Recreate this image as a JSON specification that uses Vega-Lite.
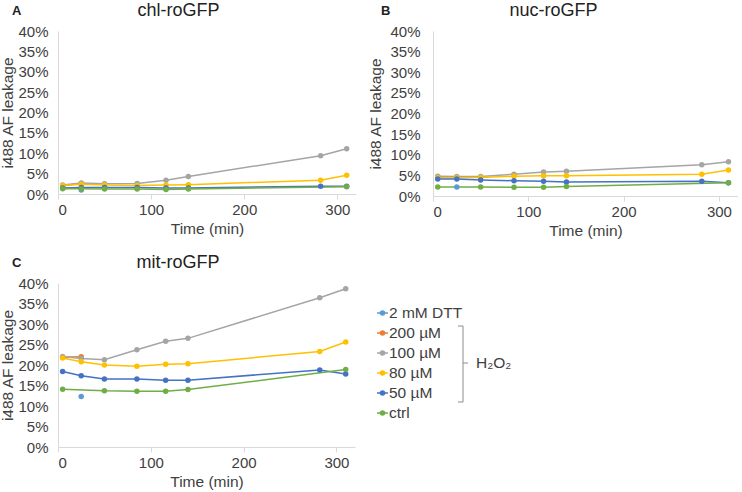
{
  "$schema": "https://vega.github.io/schema/vega-lite/v6.json",
  "padding": {"left": 0, "top": 2, "right": 0, "bottom": 0},
  "background": "white",
  "datasets": {
    "d": [
      {"panel": "A", "series": "2 mM DTT", "time": 25, "value": 0.010},
      {"panel": "A", "series": "200 µM", "time": 5, "value": 0.020},
      {"panel": "A", "series": "200 µM", "time": 25, "value": 0.026},
      {"panel": "A", "series": "100 µM", "time": 5, "value": 0.022},
      {"panel": "A", "series": "100 µM", "time": 25, "value": 0.027},
      {"panel": "A", "series": "100 µM", "time": 50, "value": 0.025},
      {"panel": "A", "series": "100 µM", "time": 85, "value": 0.026},
      {"panel": "A", "series": "100 µM", "time": 116, "value": 0.034},
      {"panel": "A", "series": "100 µM", "time": 140, "value": 0.043},
      {"panel": "A", "series": "100 µM", "time": 282, "value": 0.094},
      {"panel": "A", "series": "100 µM", "time": 310, "value": 0.111},
      {"panel": "A", "series": "80 µM", "time": 5, "value": 0.021},
      {"panel": "A", "series": "80 µM", "time": 25, "value": 0.024},
      {"panel": "A", "series": "80 µM", "time": 50, "value": 0.022},
      {"panel": "A", "series": "80 µM", "time": 85, "value": 0.021},
      {"panel": "A", "series": "80 µM", "time": 116, "value": 0.022},
      {"panel": "A", "series": "80 µM", "time": 140, "value": 0.023},
      {"panel": "A", "series": "80 µM", "time": 282, "value": 0.034},
      {"panel": "A", "series": "80 µM", "time": 310, "value": 0.046},
      {"panel": "A", "series": "50 µM", "time": 5, "value": 0.015},
      {"panel": "A", "series": "50 µM", "time": 25, "value": 0.016},
      {"panel": "A", "series": "50 µM", "time": 50, "value": 0.016},
      {"panel": "A", "series": "50 µM", "time": 85, "value": 0.016},
      {"panel": "A", "series": "50 µM", "time": 116, "value": 0.015},
      {"panel": "A", "series": "50 µM", "time": 140, "value": 0.015},
      {"panel": "A", "series": "50 µM", "time": 282, "value": 0.019},
      {"panel": "A", "series": "50 µM", "time": 310, "value": 0.019},
      {"panel": "A", "series": "ctrl", "time": 5, "value": 0.013},
      {"panel": "A", "series": "ctrl", "time": 25, "value": 0.013},
      {"panel": "A", "series": "ctrl", "time": 50, "value": 0.012},
      {"panel": "A", "series": "ctrl", "time": 85, "value": 0.012},
      {"panel": "A", "series": "ctrl", "time": 116, "value": 0.011},
      {"panel": "A", "series": "ctrl", "time": 140, "value": 0.012},
      {"panel": "A", "series": "ctrl", "time": 310, "value": 0.018},

      {"panel": "B", "series": "2 mM DTT", "time": 25, "value": 0.022},
      {"panel": "B", "series": "200 µM", "time": 5, "value": 0.046},
      {"panel": "B", "series": "200 µM", "time": 25, "value": 0.045},
      {"panel": "B", "series": "100 µM", "time": 5, "value": 0.048},
      {"panel": "B", "series": "100 µM", "time": 25, "value": 0.047},
      {"panel": "B", "series": "100 µM", "time": 50, "value": 0.047},
      {"panel": "B", "series": "100 µM", "time": 85, "value": 0.053},
      {"panel": "B", "series": "100 µM", "time": 116, "value": 0.058},
      {"panel": "B", "series": "100 µM", "time": 140, "value": 0.060},
      {"panel": "B", "series": "100 µM", "time": 282, "value": 0.076},
      {"panel": "B", "series": "100 µM", "time": 310, "value": 0.083},
      {"panel": "B", "series": "80 µM", "time": 5, "value": 0.044},
      {"panel": "B", "series": "80 µM", "time": 25, "value": 0.044},
      {"panel": "B", "series": "80 µM", "time": 50, "value": 0.045},
      {"panel": "B", "series": "80 µM", "time": 85, "value": 0.048},
      {"panel": "B", "series": "80 µM", "time": 116, "value": 0.049},
      {"panel": "B", "series": "80 µM", "time": 140, "value": 0.049},
      {"panel": "B", "series": "80 µM", "time": 282, "value": 0.053},
      {"panel": "B", "series": "80 µM", "time": 310, "value": 0.063},
      {"panel": "B", "series": "50 µM", "time": 5, "value": 0.041},
      {"panel": "B", "series": "50 µM", "time": 25, "value": 0.041},
      {"panel": "B", "series": "50 µM", "time": 50, "value": 0.039},
      {"panel": "B", "series": "50 µM", "time": 85, "value": 0.037},
      {"panel": "B", "series": "50 µM", "time": 116, "value": 0.036},
      {"panel": "B", "series": "50 µM", "time": 140, "value": 0.034},
      {"panel": "B", "series": "50 µM", "time": 282, "value": 0.036},
      {"panel": "B", "series": "50 µM", "time": 310, "value": 0.032},
      {"panel": "B", "series": "ctrl", "time": 5, "value": 0.022},
      {"panel": "B", "series": "ctrl", "time": 50, "value": 0.022},
      {"panel": "B", "series": "ctrl", "time": 85, "value": 0.021},
      {"panel": "B", "series": "ctrl", "time": 116, "value": 0.021},
      {"panel": "B", "series": "ctrl", "time": 140, "value": 0.023},
      {"panel": "B", "series": "ctrl", "time": 310, "value": 0.032},

      {"panel": "C", "series": "2 mM DTT", "time": 25, "value": 0.123},
      {"panel": "C", "series": "200 µM", "time": 5, "value": 0.219},
      {"panel": "C", "series": "200 µM", "time": 25, "value": 0.220},
      {"panel": "C", "series": "100 µM", "time": 5, "value": 0.221},
      {"panel": "C", "series": "100 µM", "time": 25, "value": 0.216},
      {"panel": "C", "series": "100 µM", "time": 50, "value": 0.213},
      {"panel": "C", "series": "100 µM", "time": 85, "value": 0.237},
      {"panel": "C", "series": "100 µM", "time": 116, "value": 0.258},
      {"panel": "C", "series": "100 µM", "time": 140, "value": 0.265},
      {"panel": "C", "series": "100 µM", "time": 282, "value": 0.364},
      {"panel": "C", "series": "100 µM", "time": 310, "value": 0.386},
      {"panel": "C", "series": "80 µM", "time": 5, "value": 0.217},
      {"panel": "C", "series": "80 µM", "time": 25, "value": 0.208},
      {"panel": "C", "series": "80 µM", "time": 50, "value": 0.200},
      {"panel": "C", "series": "80 µM", "time": 85, "value": 0.197},
      {"panel": "C", "series": "80 µM", "time": 116, "value": 0.202},
      {"panel": "C", "series": "80 µM", "time": 140, "value": 0.203},
      {"panel": "C", "series": "80 µM", "time": 282, "value": 0.233},
      {"panel": "C", "series": "80 µM", "time": 310, "value": 0.256},
      {"panel": "C", "series": "50 µM", "time": 5, "value": 0.184},
      {"panel": "C", "series": "50 µM", "time": 25, "value": 0.174},
      {"panel": "C", "series": "50 µM", "time": 50, "value": 0.166},
      {"panel": "C", "series": "50 µM", "time": 85, "value": 0.166},
      {"panel": "C", "series": "50 µM", "time": 116, "value": 0.163},
      {"panel": "C", "series": "50 µM", "time": 140, "value": 0.163},
      {"panel": "C", "series": "50 µM", "time": 282, "value": 0.188},
      {"panel": "C", "series": "50 µM", "time": 310, "value": 0.178},
      {"panel": "C", "series": "ctrl", "time": 5, "value": 0.141},
      {"panel": "C", "series": "ctrl", "time": 50, "value": 0.137},
      {"panel": "C", "series": "ctrl", "time": 85, "value": 0.136},
      {"panel": "C", "series": "ctrl", "time": 116, "value": 0.136},
      {"panel": "C", "series": "ctrl", "time": 140, "value": 0.140},
      {"panel": "C", "series": "ctrl", "time": 310, "value": 0.189}
    ],
    "series": [
      {"series": "2 mM DTT"},
      {"series": "200 µM"},
      {"series": "100 µM"},
      {"series": "80 µM"},
      {"series": "50 µM"},
      {"series": "ctrl"}
    ]
  },
  "config": {
    "font": "Liberation Sans",
    "view": {"stroke": null},
    "axis": {
      "grid": false,
      "domainColor": "#d9d9d9",
      "tickColor": "#d9d9d9",
      "labelFontSize": 15,
      "labelColor": "#404040",
      "titleFontSize": 15.5,
      "titleFontWeight": "normal",
      "titleColor": "#404040"
    },
    "title": {"fontSize": 18, "fontWeight": "normal", "color": "#222222"}
  },
  "spacing": 15,
  "vconcat": [
    {
      "spacing": 12,
      "hconcat": [
        {
          "title": {"text": "A", "anchor": "start", "frame": "bounds", "fontSize": 13, "fontWeight": "bold", "offset": -16, "dx": 11},
          "vconcat": [
            {
              "width": 298,
              "height": 163,
              "title": {"text": "chl-roGFP", "frame": "bounds", "anchor": "middle", "offset": 4},
              "data": {"name": "d"},
              "transform": [{"filter": "datum.panel === 'A'"}],
              "mark": {"type": "line", "strokeWidth": 1.5, "point": {"filled": true, "size": 30}},
              "encoding": {
                "x": {"field": "time", "type": "quantitative", "scale": {"domain": [0, 320], "nice": false},
                      "axis": {"title": "Time (min)", "values": [0, 100, 200, 300], "tickSize": 5, "labelPadding": 3, "titlePadding": 4}},
                "y": {"field": "value", "type": "quantitative", "scale": {"domain": [0, 0.4], "nice": false},
                      "axis": {"title": "i488 AF leakage", "values": [0, 0.05, 0.1, 0.15, 0.2, 0.25, 0.3, 0.35, 0.4], "format": ".0%", "ticks": false, "labelPadding": 10, "titlePadding": 2}},
                "color": {"field": "series", "type": "nominal", "legend": null,
                          "scale": {"domain": ["2 mM DTT", "200 µM", "100 µM", "80 µM", "50 µM", "ctrl"],
                                    "range": ["#5B9BD5", "#ED7D31", "#A5A5A5", "#FFC000", "#4472C4", "#70AD47"]}}
              }
            }
          ]
        },
        {
          "title": {"text": "B", "anchor": "start", "frame": "bounds", "fontSize": 13, "fontWeight": "bold", "offset": -16, "dx": 12},
          "vconcat": [
            {
              "width": 305,
              "height": 165,
              "title": {"text": "nuc-roGFP", "frame": "bounds", "anchor": "middle", "offset": 4},
              "data": {"name": "d"},
              "transform": [{"filter": "datum.panel === 'B'"}],
              "mark": {"type": "line", "strokeWidth": 1.5, "point": {"filled": true, "size": 30}},
              "encoding": {
                "x": {"field": "time", "type": "quantitative", "scale": {"domain": [0, 320], "nice": false},
                      "axis": {"title": "Time (min)", "values": [0, 100, 200, 300], "tickSize": 5, "labelPadding": 3, "titlePadding": 4}},
                "y": {"field": "value", "type": "quantitative", "scale": {"domain": [0, 0.4], "nice": false},
                      "axis": {"title": "i488 AF leakage", "values": [0, 0.05, 0.1, 0.15, 0.2, 0.25, 0.3, 0.35, 0.4], "format": ".0%", "ticks": false, "labelPadding": 13, "titlePadding": 6}},
                "color": {"field": "series", "type": "nominal", "legend": null,
                          "scale": {"domain": ["2 mM DTT", "200 µM", "100 µM", "80 µM", "50 µM", "ctrl"],
                                    "range": ["#5B9BD5", "#ED7D31", "#A5A5A5", "#FFC000", "#4472C4", "#70AD47"]}}
              }
            }
          ]
        }
      ]
    },
    {
      "spacing": 20,
      "hconcat": [
        {
          "title": {"text": "C", "anchor": "start", "frame": "bounds", "fontSize": 13, "fontWeight": "bold", "offset": -16, "dx": 11},
          "vconcat": [
            {
              "width": 297,
              "height": 164,
              "title": {"text": "mit-roGFP", "frame": "bounds", "anchor": "middle", "offset": 4},
              "data": {"name": "d"},
              "transform": [{"filter": "datum.panel === 'C'"}],
              "mark": {"type": "line", "strokeWidth": 1.5, "point": {"filled": true, "size": 30}},
              "encoding": {
                "x": {"field": "time", "type": "quantitative", "scale": {"domain": [0, 320], "nice": false},
                      "axis": {"title": "Time (min)", "values": [0, 100, 200, 300], "tickSize": 5, "labelPadding": 3, "titlePadding": 4}},
                "y": {"field": "value", "type": "quantitative", "scale": {"domain": [0, 0.4], "nice": false},
                      "axis": {"title": "i488 AF leakage", "values": [0, 0.05, 0.1, 0.15, 0.2, 0.25, 0.3, 0.35, 0.4], "format": ".0%", "ticks": false, "labelPadding": 10, "titlePadding": 2}},
                "color": {"field": "series", "type": "nominal", "legend": null,
                          "scale": {"domain": ["2 mM DTT", "200 µM", "100 µM", "80 µM", "50 µM", "ctrl"],
                                    "range": ["#5B9BD5", "#ED7D31", "#A5A5A5", "#FFC000", "#4472C4", "#70AD47"]}}
              }
            }
          ]
        },
        {
          "width": 150,
          "height": 200,
          "data": {"name": "series"},
          "encoding": {
            "y": {"field": "series", "type": "nominal", "axis": null,
                  "scale": {"type": "band", "domain": ["2 mM DTT", "200 µM", "100 µM", "80 µM", "50 µM", "ctrl"], "range": [20, 140], "paddingInner": 0, "paddingOuter": 0}}
          },
          "layer": [
            {
              "mark": {"type": "rule", "strokeWidth": 1.5},
              "encoding": {
                "x": {"datum": 2, "type": "quantitative", "scale": {"domain": [0, 150], "nice": false}, "axis": null},
                "x2": {"datum": 13},
                "color": {"field": "series", "type": "nominal", "legend": null,
                          "scale": {"domain": ["2 mM DTT", "200 µM", "100 µM", "80 µM", "50 µM", "ctrl"],
                                    "range": ["#5B9BD5", "#ED7D31", "#A5A5A5", "#FFC000", "#4472C4", "#70AD47"]}}
              }
            },
            {
              "mark": {"type": "point", "filled": true, "size": 30, "opacity": 1},
              "encoding": {
                "x": {"datum": 7.5, "type": "quantitative"},
                "color": {"field": "series", "type": "nominal", "legend": null}
              }
            },
            {
              "mark": {"type": "text", "align": "left", "baseline": "middle", "fontSize": 15.5, "color": "#404040"},
              "encoding": {
                "x": {"datum": 14, "type": "quantitative"},
                "text": {"field": "series"}
              }
            },
            {
              "data": {"values": [{}]},
              "mark": {"type": "rule", "color": "#8c8c8c", "strokeWidth": 1},
              "encoding": {
                "x": {"datum": 88, "type": "quantitative"},
                "y": {"datum": "200 µM", "type": "nominal", "bandPosition": 0.15},
                "y2": {"datum": "50 µM", "bandPosition": 0.95}
              }
            },
            {
              "data": {"values": [{}]},
              "mark": {"type": "rule", "color": "#8c8c8c", "strokeWidth": 1},
              "encoding": {
                "x": {"datum": 83, "type": "quantitative"},
                "x2": {"datum": 88},
                "y": {"datum": "200 µM", "type": "nominal", "bandPosition": 0.15}
              }
            },
            {
              "data": {"values": [{}]},
              "mark": {"type": "rule", "color": "#8c8c8c", "strokeWidth": 1},
              "encoding": {
                "x": {"datum": 83, "type": "quantitative"},
                "x2": {"datum": 88},
                "y": {"datum": "50 µM", "type": "nominal", "bandPosition": 0.95}
              }
            },
            {
              "data": {"values": [{}]},
              "mark": {"type": "rule", "color": "#8c8c8c", "strokeWidth": 1},
              "encoding": {
                "x": {"datum": 88, "type": "quantitative"},
                "x2": {"datum": 93},
                "y": {"datum": "80 µM", "type": "nominal", "bandPosition": 0}
              }
            },
            {
              "data": {"values": [{}]},
              "mark": {"type": "text", "align": "left", "baseline": "middle", "fontSize": 15.5, "color": "#404040"},
              "encoding": {
                "x": {"datum": 101, "type": "quantitative"},
                "y": {"datum": "80 µM", "type": "nominal", "bandPosition": 0},
                "text": {"value": "H₂O₂"}
              }
            }
          ]
        }
      ]
    }
  ]
}
